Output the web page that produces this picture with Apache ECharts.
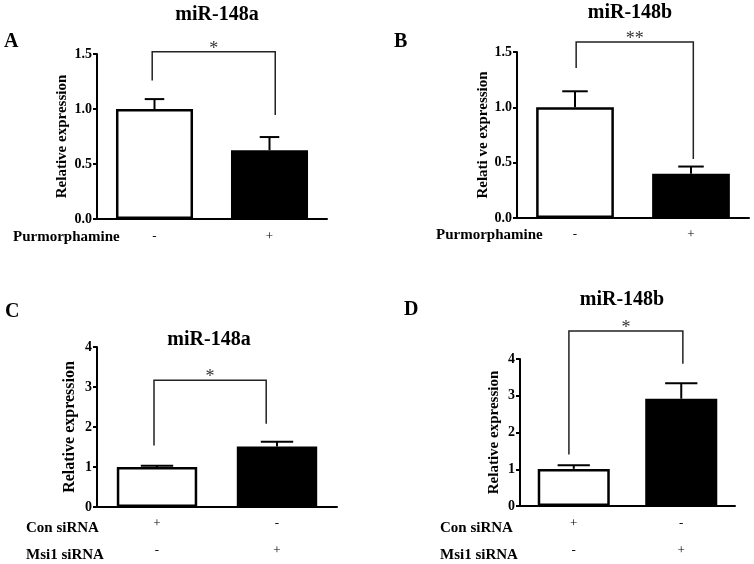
<!DOCTYPE html>
<html><head><meta charset="utf-8">
<script src="https://cdn.jsdelivr.net/npm/echarts@6/dist/echarts.min.js"></script>
<style>html,body{margin:0;padding:0;background:#fff}#c{width:754px;height:564px}</style>
</head><body><div id="c"></div>
<script>
// ---------- data ----------
const categories = ['control', 'treated'];

const titleA = 'miR-148a';
const meanA = [1.0, 0.625];
const errTopA = [1.09, 0.745];
const signsA = ['-', '+'];
const bracketA = [-0.02, 1.05, 1.52, 1.26, 0.945]; // xLeft, xRight (category units), top, left leg end, right leg end
const starA = '*';

const titleB = 'miR-148b';
const meanB = [1.0, 0.40];
const errTopB = [1.145, 0.465];
const signsB = ['-', '+'];
const bracketB = [0.01, 1.02, 1.59, 1.355, 0.533];
const starB = '**';

const titleC = 'miR-148a';
const meanC = [1.0, 1.51];
const errTopC = [1.03, 1.63];
const conC = ['+', '-'];
const msiC = ['-', '+'];
const bracketC = [-0.025, 0.91, 3.17, 1.54, 2.08];
const starC = '*';

const titleD = 'miR-148b';
const meanD = [1.01, 2.92];
const errTopD = [1.11, 3.34];
const conD = ['+', '-'];
const msiD = ['-', '+'];
const bracketD = [-0.045, 1.015, 4.76, 1.40, 3.87];
const starD = '*';

const yTicksAB = [0, 0.5, 1.0, 1.5];
const yTicksCD = [0, 1, 2, 3, 4];

// ---------- layout ----------
const FONT = '"Liberation Serif", "Times New Roman", serif';
const panels = [
  {grid:{left:97, top:54, width:230, height:165}, ticks:yTicksAB, dec:1, mean:meanA, err:errTopA, rows:[signsA], lh:14, lm:11,
   bracket:bracketA, star:starA, cap:0.17, yName:'Relative expression', nameGap:27, ns:15},
  {grid:{left:517, top:52, width:232, height:166}, ticks:yTicksAB, dec:1, mean:meanB, err:errTopB, rows:[signsB], lh:14, lm:10,
   bracket:bracketB, star:starB, cap:0.22, yName:'Relati ve expression', nameGap:26, ns:15},
  {grid:{left:97, top:347, width:240, height:165}, ticks:yTicksCD, dec:0, mean:meanC, err:errTopC, rows:[conC, msiC], lh:27, lm:3,
   bracket:bracketC, star:starC, cap:0.27, yName:'Relative expression', nameGap:19, ns:16},
  {grid:{left:520, top:359, width:215, height:151}, ticks:yTicksCD, dec:0, mean:meanD, err:errTopD, rows:[conD, msiD], lh:27, lm:4,
   bracket:bracketD, star:starD, cap:0.3, yName:'Relative expression', nameGap:18, ns:15}
];

const texts = [
  {t:titleA, x:217, y:15, s:20, align:'center'},
  {t:titleB, x:630, y:13, s:20, align:'center'},
  {t:titleC, x:209, y:340, s:20, align:'center'},
  {t:titleD, x:622, y:300, s:20, align:'center'},
  {t:'A', x:4, y:42, s:20, align:'left'},
  {t:'B', x:394, y:42, s:20, align:'left'},
  {t:'C', x:5, y:312, s:20, align:'left'},
  {t:'D', x:404, y:310, s:20, align:'left'},
  {t:'Purmorphamine', x:13, y:237, s:15, align:'left'},
  {t:'Purmorphamine', x:436, y:235, s:15, align:'left'},
  {t:'Con siRNA', x:26, y:528, s:15, align:'left'},
  {t:'Msi1 siRNA', x:26, y:555, s:15, align:'left'},
  {t:'Con siRNA', x:440, y:528, s:15, align:'left'},
  {t:'Msi1 siRNA', x:440, y:555, s:15, align:'left'}
];

const grid = [], xAxis = [], yAxis = [], series = [];
panels.forEach((p, k) => {
  grid.push(p.grid);
  xAxis.push({
    type:'category', gridIndex:k, data:categories,
    axisLine:{show:true, lineStyle:{color:'#000', width:2}},
    axisTick:{show:false},
    axisLabel:{
      margin:p.lm, lineHeight:p.lh, fontFamily:FONT, fontSize:13, color:'#000',
      formatter:(v, i) => p.rows.map(r => r[i]).join('\n')
    }
  });
  const ticks = p.ticks;
  yAxis.push({
    type:'value', gridIndex:k, min:ticks[0], max:ticks[ticks.length-1], interval:ticks[1]-ticks[0],
    splitLine:{show:false},
    axisLine:{show:true, lineStyle:{color:'#000', width:2}},
    axisTick:{show:true, length:4, lineStyle:{color:'#000', width:2}},
    axisLabel:{margin:5, fontFamily:FONT, fontWeight:'bold', fontSize:14, color:'#000',
      formatter:v => v.toFixed(p.dec)},
    name:p.yName, nameLocation:'middle', nameGap:p.nameGap,
    nameTextStyle:{fontFamily:FONT, fontWeight:'bold', fontSize:p.ns, color:'#000'}
  });
  series.push({
    type:'bar', xAxisIndex:k, yAxisIndex:k, barWidth:'67%', silent:true,
    data:p.mean.map((m, i) => ({value:m, itemStyle:{color:i === 0 ? '#fff' : '#000', borderColor:'#000', borderWidth:2.5}}))
  });
  series.push({
    type:'custom', xAxisIndex:k, yAxisIndex:k, silent:true, z:3,
    data:p.mean.map((m, i) => [i, m, p.err[i]]),
    renderItem:(params, api) => {
      const i = api.value(0);
      const a = api.coord([i, api.value(1)]);
      const b = api.coord([i, api.value(2)]);
      const hw = api.size([1, 0])[0] * p.cap / 2;
      const st = {stroke:'#000', lineWidth:2};
      return {type:'group', children:[
        {type:'line', shape:{x1:a[0], y1:a[1], x2:b[0], y2:b[1]}, style:st},
        {type:'line', shape:{x1:b[0]-hw, y1:b[1], x2:b[0]+hw, y2:b[1]}, style:st}
      ]};
    }
  });
  series.push({
    type:'custom', xAxisIndex:k, yAxisIndex:k, silent:true, z:3, clip:false,
    data:[[0, p.bracket[2], p.bracket[0], p.bracket[1], p.bracket[3], p.bracket[4]]],
    renderItem:(params, api) => {
      const top = api.value(1);
      const c0 = api.coord([0, top]), c1 = api.coord([1, top]);
      const xl = c0[0] + (c1[0]-c0[0]) * api.value(2);
      const xr = c0[0] + (c1[0]-c0[0]) * api.value(3);
      const yl = api.coord([0, api.value(4)])[1];
      const yr = api.coord([0, api.value(5)])[1];
      return {type:'group', children:[
        {type:'polyline', shape:{points:[[xl, yl], [xl, c0[1]], [xr, c0[1]], [xr, yr]]},
         style:{stroke:'#222', lineWidth:1.5, fill:null}},
        {type:'text', x:(xl+xr)/2, y:c0[1]-3,
         style:{text:p.star, fontFamily:FONT, fontSize:18, fill:'#333', align:'center', verticalAlign:'middle'}}
      ]};
    }
  });
});

const chart = echarts.init(document.getElementById('c'), null, {renderer:'canvas'});
chart.setOption({
  animation:false,
  backgroundColor:'#fff',
  grid, xAxis, yAxis, series,
  graphic: texts.map(t => ({type:'text', x:t.x, y:t.y,
    style:{text:t.t, fontFamily:FONT, fontWeight:'bold', fontSize:t.s, fill:'#000', align:t.align, verticalAlign:'middle'}}))
});
</script></body></html>
